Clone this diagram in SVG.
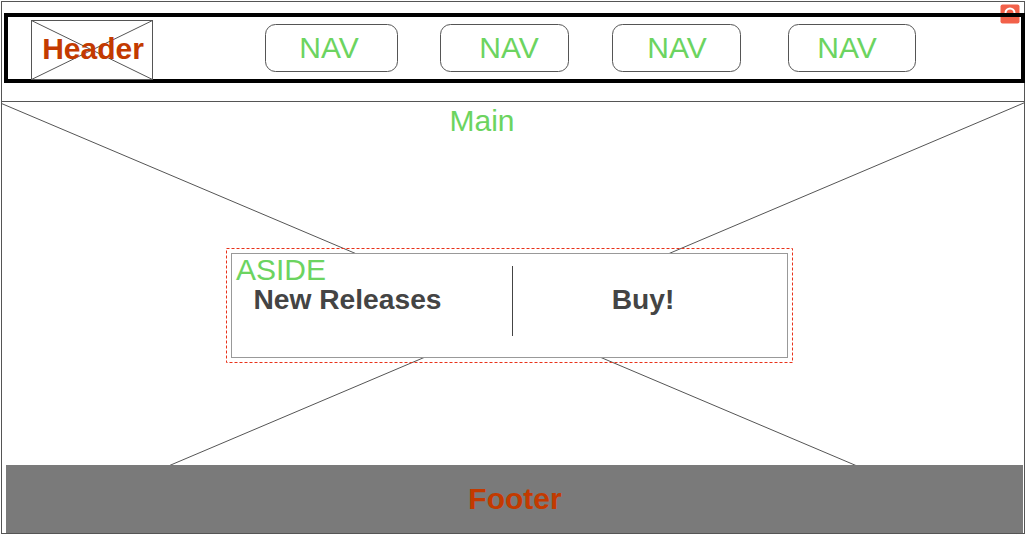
<svg xmlns="http://www.w3.org/2000/svg" width="1026" height="535" viewBox="0 0 1026 535">
<style>
.lbl{font-family:"Liberation Sans",Arial,Helvetica,sans-serif;}
.green{fill:#6cd460;font-size:30px;}
.red{fill:#c33a00;font-size:30px;font-weight:bold;}
.dark{fill:#444444;font-size:28.2px;font-weight:bold;}
.nav{fill:#ffffff;stroke:#555555;stroke-width:1;}
.xline{stroke:#555555;stroke-width:1;fill:none;}
</style>
<rect x="0" y="0" width="1026" height="535" fill="#ffffff"/>
<g id="frame">
<rect x="1.5" y="1.5" width="1023" height="532" fill="none" stroke="#555555" stroke-width="1"/>
</g>
<g id="main">
<rect x="1.5" y="101.5" width="1023" height="432" fill="#ffffff" stroke="#555555" stroke-width="1"/>
<line class="xline" x1="1.5" y1="103.5" x2="1016.4" y2="533.5"/>
<line class="xline" x1="1024.5" y1="102.7" x2="9.3" y2="533.5"/>
<text class="lbl green" x="482" y="131" text-anchor="middle">Main</text>
</g>
<g id="badge">
<rect x="1000.5" y="4.5" width="19" height="19" rx="2" fill="#f26049"/>
<path d="M1005.5,17 V13 A4.5,4.5 0 0 1 1014.5,13 V17" fill="none" stroke="#ffffff" stroke-width="2"/>
</g>
<g id="header">
<rect x="6" y="15" width="1017" height="66" fill="none" stroke="#000000" stroke-width="4"/>
<rect x="31.5" y="20.5" width="121" height="59" fill="#ffffff" stroke="#555555" stroke-width="1"/>
<line class="xline" x1="31.5" y1="20.5" x2="152.5" y2="79.5"/>
<line class="xline" x1="31.5" y1="79.5" x2="152.5" y2="20.5"/>
<text class="lbl red" x="93" y="59" text-anchor="middle">Header</text>
</g>
<g id="nav1">
<rect class="nav" x="265.5" y="24.5" width="132" height="47" rx="10"/>
<text class="lbl green" x="329" y="58" text-anchor="middle">NAV</text>
</g>
<g id="nav2">
<rect class="nav" x="440.5" y="24.5" width="128" height="47" rx="10"/>
<text class="lbl green" x="509" y="58" text-anchor="middle">NAV</text>
</g>
<g id="nav3">
<rect class="nav" x="612.5" y="24.5" width="128" height="47" rx="10"/>
<text class="lbl green" x="677" y="58" text-anchor="middle">NAV</text>
</g>
<g id="nav4">
<rect class="nav" x="788.5" y="24.5" width="127" height="47" rx="10"/>
<text class="lbl green" x="847" y="58" text-anchor="middle">NAV</text>
</g>
<g id="aside">
<rect x="226.5" y="248.5" width="566" height="114" fill="none" stroke="#e8321a" stroke-width="1" stroke-dasharray="3,2"/>
<rect x="231.5" y="253.5" width="556" height="104" fill="#ffffff" stroke="#999999" stroke-width="1"/>
<line x1="512.5" y1="266" x2="512.5" y2="336" stroke="#444444" stroke-width="1"/>
<text class="lbl green" x="236" y="280">ASIDE</text>
<text class="lbl dark" x="347.5" y="309" text-anchor="middle">New Releases</text>
<text class="lbl dark" x="643" y="309" text-anchor="middle">Buy!</text>
</g>
<g id="footer">
<rect x="6" y="465" width="1017" height="68" fill="#7a7a7a"/>
<text class="lbl red" x="515" y="509" text-anchor="middle">Footer</text>
</g>
<g id="connectors"></g>
</svg>
